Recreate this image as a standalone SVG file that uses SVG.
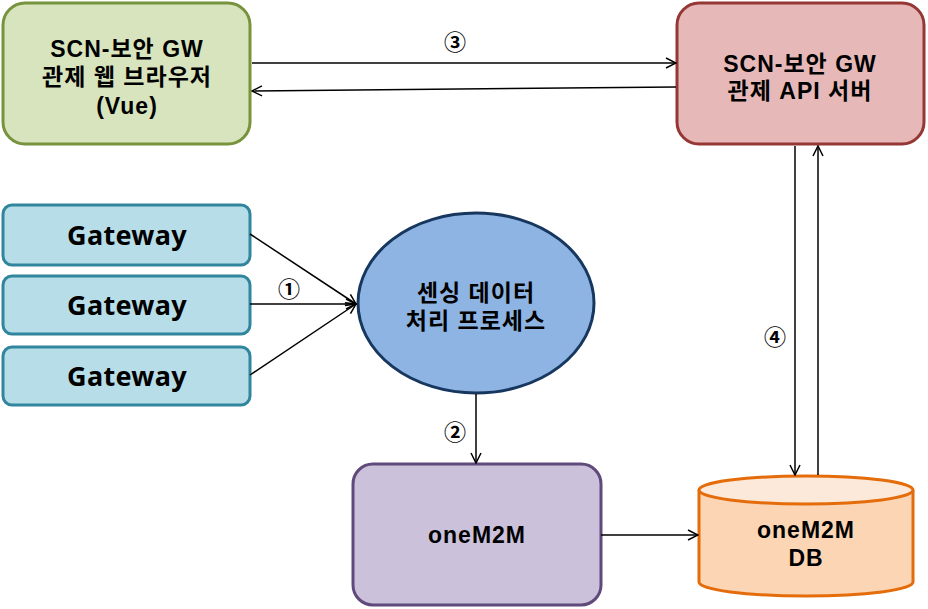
<svg xmlns="http://www.w3.org/2000/svg" width="928" height="609" viewBox="0 0 928 609">
<style>
text{font-family:"Liberation Sans","Noto Sans CJK KR",sans-serif;font-weight:bold;text-anchor:middle;fill:#000}
.t20{font-size:23px;letter-spacing:1px}
.gw{font-size:27px;font-family:"Noto Sans",sans-serif;letter-spacing:0.3px}
.num{font-size:22px;font-family:"Noto Sans CJK KR",sans-serif;font-weight:bold}
.c{stroke:#000;stroke-width:1.5;fill:none}
</style>
<defs>
<marker id="a" viewBox="0 0 12 12" refX="11" refY="6" markerWidth="12" markerHeight="12" markerUnits="userSpaceOnUse" orient="auto">
<path d="M1,1 L11,6 L1,11" fill="none" stroke="#000" stroke-width="1.5"/>
</marker>
</defs>
<g id="browser">
<rect x="3" y="3" width="247" height="141" rx="22" fill="#D7E4BD" stroke="#77933C" stroke-width="3"/>
<text class="t20" x="127" y="57">SCN-보안 GW</text>
<text class="t20" x="127" y="85">관제 웹 브라우저</text>
<text class="t20" x="127" y="114">(Vue)</text>
</g>
<g id="api">
<rect x="677" y="3" width="247" height="141" rx="22" fill="#E6B9B8" stroke="#953735" stroke-width="3"/>
<text class="t20" x="800" y="72">SCN-보안 GW</text>
<text class="t20" x="800" y="99">관제 API 서버</text>
</g>
<g id="gw1">
<rect x="3" y="205" width="247" height="60" rx="9" fill="#B7DEE8" stroke="#31859C" stroke-width="3"/>
<text class="gw" x="127" y="245">Gateway</text>
</g>
<g id="gw2">
<rect x="3" y="276" width="247" height="58" rx="9" fill="#B7DEE8" stroke="#31859C" stroke-width="3"/>
<text class="gw" x="127" y="315">Gateway</text>
</g>
<g id="gw3">
<rect x="3" y="347" width="247" height="58" rx="9" fill="#B7DEE8" stroke="#31859C" stroke-width="3"/>
<text class="gw" x="127" y="386">Gateway</text>
</g>
<g id="process">
<ellipse cx="476" cy="303" rx="118" ry="90" fill="#8EB4E3" stroke="#17375E" stroke-width="3"/>
<text class="t20" x="476" y="301">센싱 데이터</text>
<text class="t20" x="476" y="329">처리 프로세스</text>
</g>
<g id="onem2m">
<rect x="353" y="464" width="248" height="141" rx="20" fill="#CCC1DA" stroke="#604A7B" stroke-width="3"/>
<text class="t20" x="477" y="543">oneM2M</text>
</g>
<g id="db">
<path d="M699,490 L699,582 A107,14 0 0 0 913,582 L913,490" fill="#FCD5B5" stroke="#E46C0A" stroke-width="3"/>
<ellipse cx="806" cy="490" rx="107" ry="14" fill="#FDE9D9" stroke="#E46C0A" stroke-width="3"/>
<text class="t20" x="806" y="538">oneM2M</text>
<text class="t20" x="806" y="566">DB</text>
</g>
<g id="connectors">
<line class="c" x1="252" y1="63" x2="676" y2="63" marker-end="url(#a)"/>
<line class="c" x1="676" y1="87" x2="252" y2="91" marker-end="url(#a)"/>
<line class="c" x1="250" y1="234" x2="356" y2="304" marker-end="url(#a)"/>
<line class="c" x1="250" y1="304" x2="356" y2="304" marker-end="url(#a)"/>
<line class="c" x1="250" y1="375" x2="356" y2="304" marker-end="url(#a)"/>
<line class="c" x1="476" y1="394" x2="476" y2="463" marker-end="url(#a)"/>
<line class="c" x1="601" y1="535" x2="698" y2="535" marker-end="url(#a)"/>
<line class="c" x1="795" y1="146" x2="795" y2="475" marker-end="url(#a)"/>
<line class="c" x1="818" y1="475" x2="818" y2="146" marker-end="url(#a)"/>
<text class="num" x="455" y="50">③</text>
<text class="num" x="289" y="297">①</text>
<text class="num" x="455" y="440">②</text>
<text class="num" x="775" y="345">④</text>
</g>
</svg>
